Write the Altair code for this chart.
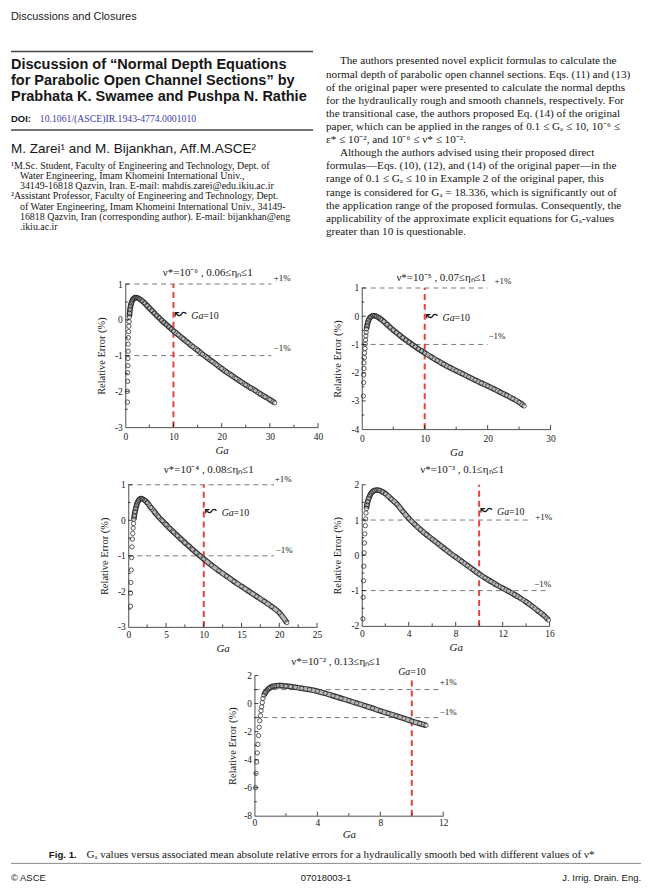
import altair as alt
import pandas as pd

# ------------------------------------------------------------------ data
# Panel (a)  nu* = 1e-6
A_SPARSE_GA = [0.45, 0.45, 0.5, 0.5, 0.55, 0.55, 0.6, 0.6, 0.65, 0.7, 0.75, 0.8]
A_SPARSE_ERR = [-2.3, -2.0, -1.72, -1.48, -1.28, -1.08, -0.88, -0.68, -0.5, -0.33, -0.18, -0.05]
A_GA = [0.85, 0.9, 1.0, 1.1, 1.25, 1.4, 1.6, 1.8, 2.0, 2.3, 2.6, 3.0, 3.5, 4.0, 4.5, 5.0, 5.5, 6.0,
        6.5, 7.0, 7.5, 8.0, 8.5, 9.0, 9.5, 10, 11, 12, 13, 14, 15, 16, 17, 18, 19, 20, 21, 22, 23,
        24, 25, 26, 27, 28, 29, 30, 31]
A_ERR = [0.08, 0.18, 0.3, 0.38, 0.46, 0.52, 0.57, 0.6, 0.62, 0.62, 0.61, 0.58, 0.53, 0.47, 0.4, 0.33,
         0.26, 0.19, 0.12, 0.06, -0.01, -0.07, -0.13, -0.19, -0.25, -0.31, -0.42, -0.53, -0.64,
         -0.75, -0.85, -0.96, -1.06, -1.16, -1.26, -1.36, -1.46, -1.55, -1.64, -1.73, -1.82, -1.9,
         -1.98, -2.07, -2.15, -2.23, -2.32]

# Panel (b)  nu* = 1e-5
B_SPARSE_GA = [0.25, 0.3, 0.3, 0.35, 0.35, 0.4, 0.45, 0.5, 0.55, 0.6, 0.65, 0.7]
B_SPARSE_ERR = [-2.83, -2.35, -2.08, -1.85, -1.65, -1.47, -1.3, -1.14, -0.98, -0.84, -0.7, -0.57]
B_GA = [0.75, 0.85, 0.95, 1.1, 1.3, 1.5, 1.75, 2.0, 2.3, 2.7, 3.0, 3.5, 4.0, 4.5, 5.0, 5.5, 6.0, 6.5,
        7.0, 7.5, 8.0, 8.5, 9.0, 9.5, 10, 11, 12, 13, 14, 15, 16, 17, 18, 19, 20, 21, 22, 23, 24,
        25, 25.8]
B_ERR = [-0.45, -0.33, -0.23, -0.13, -0.05, -0.01, 0.02, 0.02, 0.0, -0.05, -0.1, -0.19, -0.29,
         -0.39, -0.49, -0.58, -0.67, -0.76, -0.84, -0.92, -1.0, -1.08, -1.16, -1.23, -1.3, -1.44,
         -1.57, -1.7, -1.82, -1.93, -2.04, -2.15, -2.26, -2.37, -2.47, -2.58, -2.69, -2.8, -2.92,
         -3.05, -3.18]

# Panel (c)  nu* = 1e-4
C_SPARSE_GA = [0.3, 0.3, 0.35, 0.4, 0.45, 0.5, 0.55, 0.6, 0.65, 0.7]
C_SPARSE_ERR = [-2.42, -2.05, -1.75, -1.4, -1.05, -0.75, -0.53, -0.37, -0.22, -0.09]
C_GA = [0.75, 0.8, 0.9, 1.0, 1.1, 1.2, 1.35, 1.5, 1.7, 1.9, 2.2, 2.5, 3.0, 3.5, 4.0, 4.5, 5.0, 5.5,
        6.0, 6.5, 7.0, 7.5, 8.0, 8.5, 9.0, 9.5, 10, 11, 12, 13, 14, 15, 16, 17, 18, 19, 20, 21]
C_ERR = [0.03, 0.12, 0.24, 0.34, 0.42, 0.49, 0.55, 0.59, 0.61, 0.6, 0.56, 0.5, 0.36, 0.23, 0.1,
         -0.01, -0.12, -0.23, -0.33, -0.43, -0.53, -0.63, -0.72, -0.82, -0.91, -1.0, -1.09, -1.26,
         -1.42, -1.57, -1.72, -1.86, -2.0, -2.14, -2.28, -2.43, -2.6, -2.88]

# Panel (d)  nu* = 1e-3
D_SPARSE_GA = [0.1, 0.12, 0.15, 0.18, 0.2, 0.23, 0.26, 0.3, 0.33, 0.36]
D_SPARSE_ERR = [-1.8, -1.19, -0.72, -0.31, 0.07, 0.35, 0.61, 0.84, 1.03, 1.2]
D_GA = [0.4, 0.45, 0.5, 0.6, 0.7, 0.8, 0.95, 1.1, 1.3, 1.5, 1.75, 2.0, 2.5, 3.0, 3.5, 4.0, 4.5, 5.0,
        5.5, 6.0, 6.5, 7.0, 7.5, 8.0, 8.5, 9.0, 9.5, 10, 10.5, 11, 11.5, 12, 12.5, 13, 13.5, 14,
        14.5, 15, 15.5, 15.9]
D_ERR = [1.33, 1.43, 1.52, 1.62, 1.7, 1.76, 1.81, 1.84, 1.85, 1.84, 1.8, 1.75, 1.6, 1.45, 1.24,
         1.05, 0.88, 0.73, 0.59, 0.46, 0.33, 0.2, 0.07, -0.05, -0.17, -0.29, -0.41, -0.53, -0.64,
         -0.74, -0.84, -0.93, -1.02, -1.11, -1.21, -1.32, -1.44, -1.57, -1.7, -1.83]

# Panel (e)  nu* = 1e-2
E_SPARSE_GA = [0.06, 0.1, 0.14, 0.18, 0.22, 0.26, 0.3, 0.34, 0.38, 0.42, 0.46, 0.5, 0.54]
E_SPARSE_ERR = [-6.0, -4.98, -4.17, -3.52, -2.91, -2.28, -1.69, -1.22, -0.87, -0.51, -0.23, 0.07, 0.37]
E_GA = [0.6, 0.7, 0.8, 0.9, 1.0, 1.15, 1.3, 1.5, 1.7, 2.0, 2.3, 2.6, 3.0, 3.5, 4.0, 4.5, 5.0, 5.5,
        6.0, 6.5, 7.0, 7.5, 8.0, 8.5, 9.0, 9.5, 10, 10.5, 10.9]
E_ERR = [0.6, 0.8, 0.95, 1.06, 1.14, 1.22, 1.26, 1.28, 1.28, 1.25, 1.21, 1.16, 1.09, 1.0, 0.88, 0.73,
         0.56, 0.38, 0.21, 0.03, -0.15, -0.33, -0.52, -0.7, -0.88, -1.06, -1.25, -1.42, -1.55]

PANEL_TITLES = ["ν*=10⁻⁶ , 0.06≤ηₙ≤1", "ν*=10⁻⁵ , 0.07≤ηₙ≤1", "ν*=10⁻⁴ , 0.08≤ηₙ≤1",
                "ν*=10⁻³ , 0.1≤ηₙ≤1", "ν*=10⁻² , 0.13≤ηₙ≤1"]

HEADER = "Discussions and Closures"
TITLE_LINES = ["Discussion of “Normal Depth Equations",
               "for Parabolic Open Channel Sections” by",
               "Prabhata K. Swamee and Pushpa N. Rathie"]
DOI_LABEL = "DOI:"
DOI_LINK = "10.1061/(ASCE)IR.1943-4774.0001010"
AUTHORS = "M. Zarei¹ and M. Bijankhan, Aff.M.ASCE²"
FOOTNOTES = ["¹M.Sc. Student, Faculty of Engineering and Technology, Dept. of",
             "Water Engineering, Imam Khomeini International Univ.,",
             "34149-16818 Qazvin, Iran. E-mail: mahdis.zarei@edu.ikiu.ac.ir",
             "²Assistant Professor, Faculty of Engineering and Technology, Dept.",
             "of Water Engineering, Imam Khomeini International Univ., 34149-",
             "16818 Qazvin, Iran (corresponding author). E-mail: bijankhan@eng",
             ".ikiu.ac.ir"]
BODY = ["The authors presented novel explicit formulas to calculate the",
        "normal depth of parabolic open channel sections. Eqs. (11) and (13)",
        "of the original paper were presented to calculate the normal depths",
        "for the hydraulically rough and smooth channels, respectively. For",
        "the transitional case, the authors proposed Eq. (14) of the original",
        "paper, which can be applied in the ranges of 0.1 ≤ Gₐ ≤ 10, 10⁻⁶ ≤",
        "ε* ≤ 10⁻², and 10⁻⁶ ≤ ν* ≤ 10⁻².",
        "Although the authors advised using their proposed direct",
        "formulas—Eqs. (10), (12), and (14) of the original paper—in the",
        "range of 0.1 ≤ Gₐ ≤ 10 in Example 2 of the original paper, this",
        "range is considered for Gₐ = 18.336, which is significantly out of",
        "the application range of the proposed formulas. Consequently, the",
        "applicability of the approximate explicit equations for Gₐ-values",
        "greater than 10 is questionable."]
CAPTION_LABEL = "Fig. 1."
CAPTION = "Gₐ values versus associated mean absolute relative errors for a hydraulically smooth bed with different values of ν*"
FOOT_LEFT = "© ASCE"
FOOT_MID = "07018003-1"
FOOT_RIGHT = "J. Irrig. Drain. Eng."

# ------------------------------------------------------------------ style
SERIF = "Liberation Serif"
SANS = "Liberation Sans"
INK = "#161616"
RED = "#e8403a"
DASH_GRAY = "#7a7a7a"
ONE = pd.DataFrame({"k": [0]})


def txt(x, y, s, size, font=SERIF, weight="normal", style="normal", align="left",
        baseline="middle", color=INK):
    return alt.Chart(ONE).mark_text(
        text=s, fontSize=size, font=font, fontWeight=weight, fontStyle=style,
        align=align, baseline=baseline, color=color
    ).encode(x=alt.value(x), y=alt.value(y))


def hrule(x1, x2, y, color="#444", w=1.5):
    return alt.Chart(ONE).mark_rule(color=color, strokeWidth=w).encode(
        x=alt.value(x1), x2=alt.value(x2), y=alt.value(y))


def spacer(w, h):
    return alt.Chart(ONE).mark_point(opacity=0).encode(
        x=alt.value(0), y=alt.value(0)).properties(width=w, height=h)


def panel(c):
    W, H = c["w"], c["h"]
    x0, x1 = c["xdom"]
    y0, y1 = c["ydom"]
    rx = (10 - x0) / (x1 - x0) * W
    xs = alt.Scale(domain=[x0, x1], nice=False, zero=False)
    ys = alt.Scale(domain=[y0, y1], nice=False, zero=False)
    X = alt.X("ga:Q", scale=xs, axis=alt.Axis(
        values=c["xticks"], title="Ga", titleFont=SERIF, titleFontStyle="italic",
        titleFontWeight="normal", titleFontSize=11, titleColor=INK, titlePadding=c["xtp"],
        labelFont=SERIF, labelFontSize=9.5, labelColor=INK, labelPadding=c["xlp"],
        labelExpr="'' + datum.value", labelFlush=False, labelOverlap=False,
        ticks=False, grid=False, domainColor="#222", domainWidth=0.8))
    Y = alt.Y("err:Q", scale=ys, axis=alt.Axis(
        values=c["yticks"], title="Relative Error (%)", titleFont=SERIF,
        titleFontWeight="normal", titleFontSize=10.5, titleColor=INK, titlePadding=c["ytp"],
        labelFont=SERIF, labelFontSize=9.5, labelColor=INK, labelPadding=3,
        labelExpr="'' + datum.value", labelFlush=False, labelOverlap=False,
        ticks=False, grid=False, domainColor="#222", domainWidth=0.8))

    dense = pd.DataFrame({"ga": c["ga"], "err": c["err"]})
    sparse = pd.DataFrame({"ga": c["sga"], "err": c["serr"]})
    pts = pd.concat([sparse, dense], ignore_index=True)
    hl = pd.DataFrame({"ga": [x0, x0], "ga2": c["hend"], "err": [1, -1]})
    vl = pd.DataFrame({"ga": [10], "err": [y0], "err2": [c["vtop"]]})
    xt_major = pd.DataFrame({"ga": c["xticks"][1:]})
    xt_minor = pd.DataFrame({"ga": c["xminor"]})
    yt_major = pd.DataFrame({"err": c["yticks"][1:]})
    yt_minor = pd.DataFrame({"err": c["yminor"]})

    layers = [
        alt.Chart(hl).mark_rule(color=DASH_GRAY, strokeDash=[5, 4], strokeWidth=1).encode(
            x=X, x2="ga2:Q", y=Y),
        alt.Chart(vl).mark_rule(color=RED, strokeDash=[6, 4], strokeWidth=2).encode(
            x=X, y=Y, y2="err2:Q"),
        alt.Chart(dense).mark_line(color="#333333", strokeWidth=5.6, interpolate="monotone").encode(x=X, y=Y),
        alt.Chart(dense).mark_line(color="#b8b8b8", strokeWidth=3.4, interpolate="monotone").encode(x=X, y=Y),
        alt.Chart(pts).mark_point(shape="circle", filled=False, size=19, strokeWidth=0.8,
                                  color="#333", opacity=1).encode(x=X, y=Y),
        alt.Chart(xt_major).mark_rule(color=INK, strokeWidth=0.8).encode(
            x=X, y=alt.value(H), y2=alt.value(H - 4)),
        alt.Chart(xt_minor).mark_rule(color=INK, strokeWidth=0.8).encode(
            x=X, y=alt.value(H), y2=alt.value(H - 2.5)),
        alt.Chart(yt_major).mark_rule(color=INK, strokeWidth=0.8).encode(
            y=Y, x=alt.value(0), x2=alt.value(4)),
        alt.Chart(yt_minor).mark_rule(color=INK, strokeWidth=0.8).encode(
            y=Y, x=alt.value(0), x2=alt.value(2.5)),
        txt(c["title_xy"][0], c["title_xy"][1], c["title"], 11, align="center"),
        txt(c["p1_xy"][0], c["p1_xy"][1], "+1%", 9, align="center"),
        txt(c["m1_xy"][0], c["m1_xy"][1], "−1%", 9, align="center"),
    ]
    if c["label_top"]:
        layers += [
            txt(rx - 1.5, c["ga_y"], "Ga", 10, style="italic", align="right"),
            txt(rx - 1.5, c["ga_y"], "=10", 10, align="left"),
        ]
    else:
        layers += [
            txt(rx + 1, c["ga_y"] - 3, "↜", 15, font="DejaVu Sans", align="left"),
            txt(rx + 18, c["ga_y"], "Ga", 10, style="italic", align="left"),
            txt(rx + 30, c["ga_y"], "=10", 10, align="left"),
        ]
    return alt.layer(*layers).properties(width=W, height=H)


PA = dict(w=194, h=144, xdom=[0, 40], ydom=[-3, 1], xticks=[0, 10, 20, 30, 40],
          xminor=[5, 15, 25, 35], yticks=[-3, -2, -1, 0, 1], yminor=[-2.5, -1.5, -0.5, 0.5],
          ga=A_GA, err=A_ERR, sga=A_SPARSE_GA, serr=A_SPARSE_ERR, hend=[30.3, 30.3], vtop=1,
          title=PANEL_TITLES[0], title_xy=(83, -11), p1_xy=(158, -6), m1_xy=(158, 64),
          ga_y=32, label_top=False, xtp=4, xlp=4, ytp=8)
PB = dict(w=190, h=142, xdom=[0, 30], ydom=[-4, 1], xticks=[0, 10, 20, 30],
          xminor=[5, 15, 25], yticks=[-4, -3, -2, -1, 0, 1], yminor=[-3.5, -2.5, -1.5, -0.5, 0.5],
          ga=B_GA, err=B_ERR, sga=B_SPARSE_GA, serr=B_SPARSE_ERR, hend=[20, 20], vtop=1,
          title=PANEL_TITLES[1], title_xy=(80, -10), p1_xy=(142, -7), m1_xy=(136, 48),
          ga_y=30, label_top=False, xtp=4, xlp=4, ytp=8)
PC = dict(w=190, h=143, xdom=[0, 25], ydom=[-3, 1], xticks=[0, 5, 10, 15, 20, 25],
          xminor=[2.5, 7.5, 12.5, 17.5, 22.5], yticks=[-3, -2, -1, 0, 1],
          yminor=[-2.5, -1.5, -0.5, 0.5],
          ga=C_GA, err=C_ERR, sga=C_SPARSE_GA, serr=C_SPARSE_ERR, hend=[19.3, 19.3], vtop=1,
          title=PANEL_TITLES[2], title_xy=(81, -15), p1_xy=(156, -6), m1_xy=(157, 66),
          ga_y=28, label_top=False, xtp=3, xlp=3, ytp=8)
PD = dict(w=189, h=142, xdom=[0, 16], ydom=[-2, 2], xticks=[0, 4, 8, 12, 16],
          xminor=[2, 6, 10, 14], yticks=[-2, -1, 0, 1, 2], yminor=[-1.5, -0.5, 0.5, 1.5],
          ga=D_GA, err=D_ERR, sga=D_SPARSE_GA, serr=D_SPARSE_ERR, hend=[14.5, 16], vtop=2,
          title=PANEL_TITLES[3], title_xy=(101, -15), p1_xy=(183, 32), m1_xy=(182, 100),
          ga_y=27, label_top=False, xtp=3, xlp=3, ytp=8)
PE = dict(w=190, h=141, xdom=[0, 12], ydom=[-8, 2], xticks=[0, 4, 8, 12],
          xminor=[2, 6, 10], yticks=[-8, -6, -4, -2, 0, 2], yminor=[-7, -5, -3, -1, 1],
          ga=E_GA, err=E_ERR, sga=E_SPARSE_GA, serr=E_SPARSE_ERR, hend=[11.8, 11.8], vtop=1.84,
          title=PANEL_TITLES[4], title_xy=(82, -14), p1_xy=(195, 6), m1_xy=(195, 37),
          ga_y=-4, label_top=True, xtp=1, xlp=2, ytp=6)

# ------------------------------------------------------------------ header (page text)
head = [
    txt(0, 0, HEADER, 11, font=SANS, baseline="top", color="#222"),
    hrule(0, 304, 41),
]
for i, line in enumerate(TITLE_LINES):
    head.append(txt(0, 55 + 16 * i, line, 14.6, font=SANS, weight="bold"))
head += [
    txt(0, 109, DOI_LABEL, 9.5, font=SANS, weight="bold"),
    txt(29, 109, DOI_LINK, 9.8, color="#3c3ca8"),
    hrule(0, 304, 120),
    txt(0, 139, AUTHORS, 13.6, font=SANS),
]
for i, line in enumerate(FOOTNOTES):
    indent = 0 if line[0] in "¹²" else 9
    head.append(txt(indent, 156 + 10.3 * i, line, 10))
for i, line in enumerate(BODY):
    indent = 14 if i in (0, 7) else 0
    head.append(txt(317 + indent, 51 + 13.2 * i, line, 11.3))
header = alt.layer(*head).properties(width=634, height=275)

# ------------------------------------------------------------------ footer
foot = alt.layer(
    txt(38, 40, CAPTION_LABEL, 9.8, font=SANS, weight="bold"),
    txt(76, 40, CAPTION, 11.1),
    hrule(0, 634, 48, color="#888", w=1),
    txt(0, 63, FOOT_LEFT, 9.5, font=SANS),
    txt(317, 63, FOOT_MID, 9.5, font=SANS, align="center"),
    txt(634, 63, FOOT_RIGHT, 9.5, font=SANS, align="right"),
).properties(width=634, height=69)

# nested concats take no height in a flush layout, so the spacers carry each row's height
row1 = alt.hconcat(spacer(115, 1), panel(PA), spacer(44, 1),
                   alt.vconcat(spacer(1, 4), panel(PB), spacing=0, bounds="flush"),
                   spacing=0, bounds="flush")
row2 = alt.hconcat(spacer(118, 1), panel(PC), spacer(45, 1), panel(PD),
                   spacing=0, bounds="flush")
row3 = alt.hconcat(spacer(245, 1), panel(PE), spacing=0, bounds="flush")

chart = alt.vconcat(header, row1, spacer(1, 202), row2, spacer(1, 192), row3, spacer(1, 141), foot,
                    spacing=0, bounds="flush").properties(
    padding=0, background="white").configure_view(stroke=None)

chart.save("out.html", embed_options={"renderer": "svg", "actions": False})
